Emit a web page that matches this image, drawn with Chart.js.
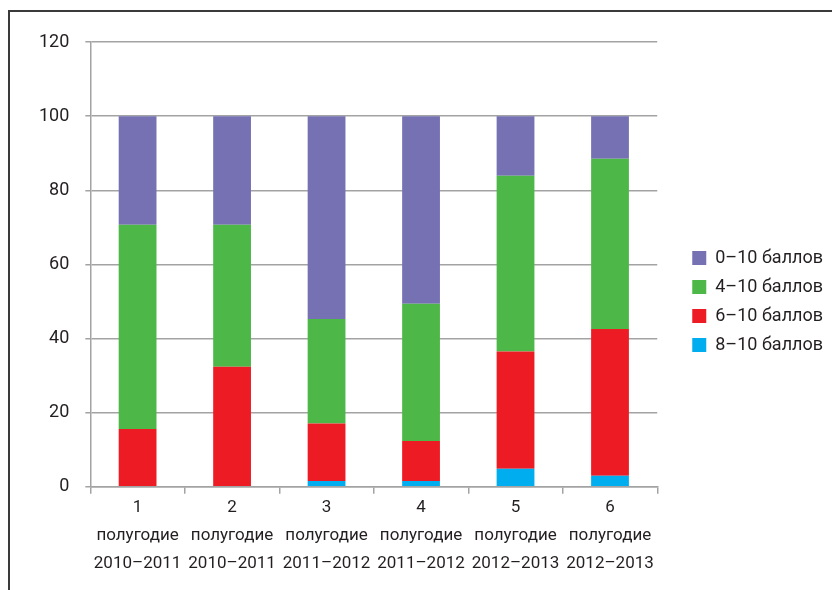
<!DOCTYPE html>
<html>
<head>
<meta charset="utf-8">
<script src="https://cdn.jsdelivr.net/npm/chart.js@4"></script>
<style>
  body { margin: 0; background: #fff; }
  #wrap { position: relative; width: 832px; height: 590px; }
  #frame { position: absolute; left: 8px; top: 10px; right: -4px; bottom: -4px; border-top: 2px solid #3a3a3a; border-left: 2px solid #3a3a3a; }
  canvas { position: absolute; left: 0; top: 0; }
</style>
</head>
<body>
<div id="wrap">
  <div id="frame"></div>
  <canvas id="scoreChart" width="832" height="590"></canvas>
</div>
<script>
const categories = [
  ['1', 'полугодие', '2010–2011'],
  ['2', 'полугодие', '2010–2011'],
  ['3', 'полугодие', '2011–2012'],
  ['4', 'полугодие', '2011–2012'],
  ['5', 'полугодие', '2012–2013'],
  ['6', 'полугодие', '2012–2013']
];
// share of each band, stacked from the bottom up
const score8to10 = [0, 0, 1.6, 1.6, 4.9, 3.0];
const score6to10 = [15.6, 32.4, 15.5, 10.8, 31.6, 39.6];
const score4to10 = [55.1, 38.3, 28.2, 37.0, 47.4, 45.9];
const score0to10 = [29.3, 29.3, 54.7, 50.6, 16.1, 11.5];
const yTicks = [0, 20, 40, 60, 80, 100, 120];

const fontFamily = 'Roboto, "Liberation Sans", sans-serif';
const gridGray = '#a3a3a3';
const textColor = '#231f20';

const ctx = document.getElementById('scoreChart').getContext('2d');
const scoreChart = new Chart(ctx, {
  type: 'bar',
  data: {
    labels: categories,
    datasets: [
      { label: '8–10 баллов', data: score8to10, backgroundColor: '#00aeef' },
      { label: '6–10 баллов', data: score6to10, backgroundColor: '#ed1c24' },
      { label: '4–10 баллов', data: score4to10, backgroundColor: '#4db848' },
      { label: '0–10 баллов', data: score0to10, backgroundColor: '#7571b3' }
    ]
  },
  options: {
    responsive: false,
    animation: false,
    barPercentage: 0.4,
    categoryPercentage: 1,
    layout: { padding: { top: 25, bottom: 12, left: 23, right: -1 } },
    scales: {
      x: {
        stacked: true,
        grid: { drawOnChartArea: false, color: gridGray, lineWidth: 1.5, tickLength: 7, offset: true },
        border: { color: gridGray, width: 1.5 },
        ticks: {
          color: textColor,
          padding: 0,
          maxRotation: 0,
          minRotation: 0,
          autoSkip: false,
          font: { family: fontFamily, size: 17, lineHeight: 1.65 }
        }
      },
      y: {
        stacked: true,
        min: 0,
        max: 120,
        afterBuildTicks: (scale) => { scale.ticks = yTicks.map(v => ({ value: v })); },
        grid: { color: gridGray, lineWidth: 1.5, tickLength: 5 },
        border: { color: gridGray, width: 1.5 },
        ticks: { color: textColor, padding: 16, font: { family: fontFamily, size: 18 } }
      },
      // empty spacers: room above the plot and between plot and legend
      gapTop: {
        position: 'top',
        display: true,
        grid: { display: false },
        border: { display: false },
        ticks: { display: false },
        afterFit: (scale) => { scale.height = 17; }
      },
      gap: {
        position: 'right',
        display: true,
        grid: { display: false },
        border: { display: false },
        ticks: { display: false },
        afterFit: (scale) => { scale.width = 24; }
      }
    },
    plugins: {
      legend: {
        position: 'right',
        reverse: true,
        maxWidth: 200,
        labels: {
          color: textColor,
          boxWidth: 14,
          boxHeight: 14,
          padding: 11,
          font: { family: fontFamily, size: 18 }
        }
      },
      tooltip: { enabled: false }
    }
  }
});
</script>
</body>
</html>
